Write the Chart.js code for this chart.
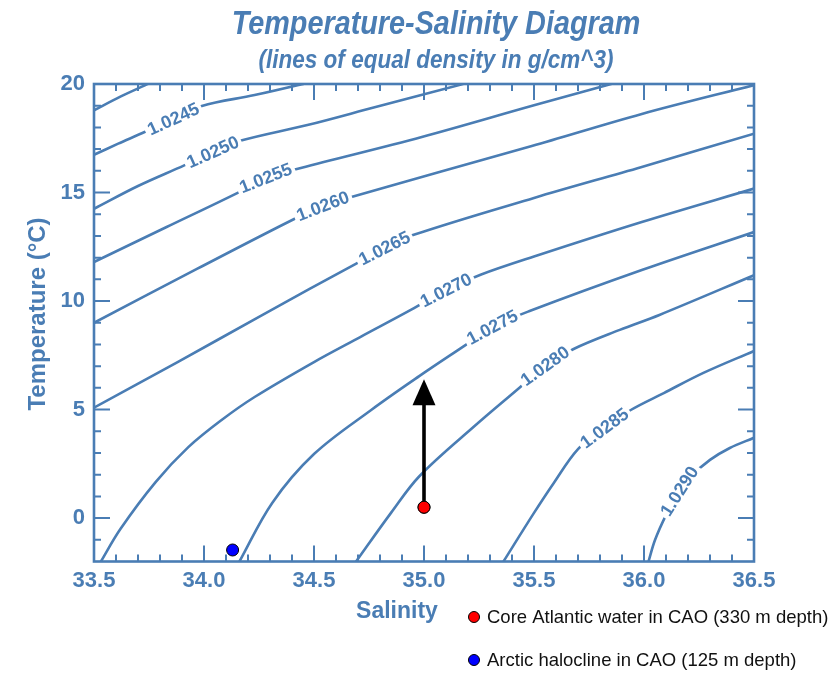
<!DOCTYPE html>
<html><head><meta charset="utf-8">
<script src="https://cdn.jsdelivr.net/npm/chart.js@4"></script>
<style>html,body{margin:0;padding:0;background:#fff;}#wrap{width:836px;height:674px;position:relative;}</style>
</head><body><div id="wrap"><canvas id="c" width="836" height="674"></canvas></div>
<script>
// ---- tick labels ----
const salinityTicks = [33.5, 34.0, 34.5, 35.0, 35.5, 36.0, 36.5];
const temperatureTicks = [0, 5, 10, 15, 20];

// ---- isopycnal lines: [salinity, temperature] ----
const sigma240 = [[33.50,18.79],[33.62,19.42],[33.74,19.98],[33.76,20.08]];
const sigma245 = [[33.50,16.74],[33.61,17.25],[33.72,17.74],[33.86,18.39],[33.99,18.99],[34.23,19.49],[34.44,19.98],[34.48,20.09]];
const sigma250 = [[33.50,14.25],[33.70,15.30],[33.91,16.25],[34.04,16.87],[34.16,17.37],[34.47,18.11],[34.78,18.94],[35.16,19.95],[35.19,20.05]];
const sigma255 = [[33.50,11.80],[33.83,13.41],[34.16,15.02],[34.28,15.67],[34.44,16.13],[34.99,17.56],[35.50,19.02],[35.83,19.94],[35.87,20.05]];
const sigma260 = [[33.50,9.00],[33.97,11.49],[34.41,13.78],[34.54,14.38],[34.67,14.79],[35.07,15.95],[35.49,17.14],[35.99,18.62],[36.50,19.95]];
const sigma265 = [[33.50,5.09],[33.88,7.19],[34.25,9.27],[34.48,10.56],[34.69,11.71],[34.82,12.44],[34.95,13.04],[35.50,14.75],[35.99,16.18],[36.50,17.71]];
const sigma270 = [[33.53,-2.02],[33.62,-0.50],[33.78,1.66],[33.93,3.28],[34.08,4.52],[34.23,5.58],[34.50,7.19],[34.71,8.34],[34.94,9.59],[35.10,10.51],[35.26,11.22],[35.50,12.05],[35.99,13.64],[36.50,15.18]];
const sigma275 = [[34.16,-2.02],[34.31,0.70],[34.50,2.95],[34.76,4.98],[34.98,6.55],[35.19,7.98],[35.31,8.80],[35.48,9.54],[35.99,11.43],[36.50,13.18]];
const sigma280 = [[34.69,-2.02],[34.85,0.24],[34.98,1.94],[35.23,4.24],[35.43,5.97],[35.55,7.01],[35.68,7.79],[35.89,8.67],[36.07,9.36],[36.50,11.19]];
const sigma285 = [[35.36,-2.02],[35.50,0.24],[35.59,1.62],[35.70,3.18],[35.82,4.15],[35.94,4.98],[36.09,5.76],[36.27,6.69],[36.50,7.70]];
const sigma290 = [[36.02,-2.02],[36.05,-1.01],[36.10,0.14],[36.16,1.25],[36.21,1.89],[36.30,2.68],[36.39,3.23],[36.50,3.70]];

const densityLabels = ['', '1.0245', '1.0250', '1.0255', '1.0260', '1.0265', '1.0270', '1.0275', '1.0280', '1.0285', '1.0290'];
const labelPointIndex = [-1, 3, 3, 3, 3, 5, 9, 6, 5, 4, 3];

// ---- observations ----
const coreAtlantic = [35.0, 0.5];
const arcticHalocline = [34.13, -1.47];
const arrowFrom = [35.0, 0.5];
const arrowTo = [35.0, 6.4];
const coreLabel = 'Core Atlantic water in CAO (330 m depth)';
const haloLabel = 'Arctic halocline in CAO (125 m depth)';
const titleText = 'Temperature-Salinity Diagram';
const subtitleText = '(lines of equal density in g/cm^3)';
const xTitle = 'Salinity';
const yTitle = 'Temperature (°C)';

const isopycnals = [sigma240, sigma245, sigma250, sigma255, sigma260, sigma265, sigma270, sigma275, sigma280, sigma285, sigma290];

const BLUE = '#4a7db4';
const FONT = '"Liberation Sans", Arial, Helvetica, sans-serif';

const datasets = isopycnals.map((pts, i) => ({
  label: densityLabels[i] || '1.0240',
  data: pts.map(p => ({x: p[0], y: p[1]})),
  showLine: true,
  borderColor: BLUE,
  borderWidth: 2.6,
  pointRadius: 0,
  pointHoverRadius: 0,
  tension: 0.35,
  fill: false,
  clip: 0
}));
datasets.push({
  label: coreLabel,
  data: [{x: coreAtlantic[0], y: coreAtlantic[1]}],
  showLine: false, pointRadius: 6, pointBackgroundColor: '#ff0000',
  pointBorderColor: '#000', pointBorderWidth: 1, clip: false
});
datasets.push({
  label: haloLabel,
  data: [{x: arcticHalocline[0], y: arcticHalocline[1]}],
  showLine: false, pointRadius: 6, pointBackgroundColor: '#0000ff',
  pointBorderColor: '#000', pointBorderWidth: 1, clip: false
});
const CORE = isopycnals.length, HALO = isopycnals.length + 1;

const tsPlugin = {
  id: 'ts',
  afterDatasetsDraw(chart) {
    const ctx = chart.ctx, area = chart.chartArea;
    const xs = chart.scales.x, ys = chart.scales.y;
    // inline density labels
    ctx.save();
    ctx.beginPath();
    ctx.rect(area.left, area.top, area.right - area.left, area.bottom - area.top);
    ctx.clip();
    isopycnals.forEach((pts, i) => {
      const k = labelPointIndex[i];
      if (k < 0) return;
      const meta = chart.getDatasetMeta(i);
      const p = meta.data[k], a = meta.data[k - 1], b = meta.data[k + 1];
      const ang = Math.atan2(b.y - a.y, b.x - a.x);
      ctx.save();
      ctx.translate(p.x, p.y);
      ctx.rotate(ang);
      ctx.font = 'bold 18px ' + FONT;
      const w = ctx.measureText(densityLabels[i]).width;
      ctx.fillStyle = '#fff';
      ctx.fillRect(-w / 2 - 3, -8, w + 6, 16);
      ctx.fillStyle = BLUE;
      ctx.textAlign = 'center';
      ctx.textBaseline = 'middle';
      ctx.fillText(densityLabels[i], 0, 1);
      ctx.restore();
    });
    ctx.restore();

    // arrow
    const x0 = xs.getPixelForValue(arrowFrom[0]), y0 = ys.getPixelForValue(arrowFrom[1]);
    const x1 = xs.getPixelForValue(arrowTo[0]), y1 = ys.getPixelForValue(arrowTo[1]);
    const headLen = 26, headW = 11.5;
    ctx.save();
    ctx.strokeStyle = '#000';
    ctx.fillStyle = '#000';
    ctx.lineWidth = 3.6;
    ctx.beginPath();
    ctx.moveTo(x0, y0);
    ctx.lineTo(x1, y1 + headLen - 2);
    ctx.stroke();
    ctx.beginPath();
    ctx.moveTo(x1, y1);
    ctx.lineTo(x1 - headW, y1 + headLen);
    ctx.lineTo(x1 + headW, y1 + headLen);
    ctx.closePath();
    ctx.fill();
    ctx.restore();
    // red dot on top of arrow
    chart.getDatasetMeta(CORE).data[0].draw(ctx, area);
  },
  afterDraw(chart) {
    const ctx = chart.ctx, area = chart.chartArea;
    const xs = chart.scales.x, ys = chart.scales.y;
    ctx.save();
    // frame
    ctx.strokeStyle = BLUE;
    ctx.lineWidth = 2.6;
    ctx.strokeRect(area.left, area.top, area.right - area.left, area.bottom - area.top);
    // inward ticks
    ctx.lineWidth = 2;
    ctx.beginPath();
    for (let i = 1; i < 30; i++) {
      const v = 33.5 + i * 0.1;
      const len = (i % 5 === 0) ? 16 : 7;
      const px = xs.getPixelForValue(v);
      ctx.moveTo(px, area.bottom); ctx.lineTo(px, area.bottom - len);
      ctx.moveTo(px, area.top); ctx.lineTo(px, area.top + len);
    }
    for (let t = -1; t < 20; t++) {
      const len = (t % 5 === 0) ? 16 : 7;
      const py = ys.getPixelForValue(t);
      ctx.moveTo(area.left, py); ctx.lineTo(area.left + len, py);
      ctx.moveTo(area.right, py); ctx.lineTo(area.right - len, py);
    }
    ctx.stroke();

    // titles
    ctx.fillStyle = BLUE;
    ctx.textAlign = 'center';
    ctx.textBaseline = 'alphabetic';
    ctx.save();
    ctx.translate(436, 34);
    ctx.scale(0.9, 1.05);
    ctx.font = 'italic bold 32px ' + FONT;
    ctx.fillText(titleText, 0, 0);
    ctx.restore();
    ctx.save();
    ctx.translate(436, 68);
    ctx.scale(0.92, 1.05);
    ctx.font = 'italic bold 24.5px ' + FONT;
    ctx.fillText(subtitleText, 0, 0);
    ctx.restore();

    // axis titles
    ctx.textBaseline = 'middle';
    ctx.font = 'bold 23px ' + FONT;
    ctx.fillText(xTitle, 397, 612);
    ctx.save();
    ctx.translate(38, 314);
    ctx.rotate(-Math.PI / 2);
    ctx.font = 'bold 24px ' + FONT;
    ctx.fillText(yTitle, 0, 0);
    ctx.restore();

    // legend
    const items = [[CORE, 617], [HALO, 660]];
    ctx.textAlign = 'left';
    ctx.font = '18.5px ' + FONT;
    items.forEach(([di, y]) => {
      const ds = chart.data.datasets[di];
      ctx.beginPath();
      ctx.arc(474, y, 5.5, 0, Math.PI * 2);
      ctx.fillStyle = ds.pointBackgroundColor;
      ctx.fill();
      ctx.lineWidth = 1;
      ctx.strokeStyle = '#000';
      ctx.stroke();
      ctx.fillStyle = '#111';
      ctx.fillText(ds.label, 487, y + 1);
    });
    ctx.restore();
  }
};

new Chart(document.getElementById('c'), {
  type: 'scatter',
  data: {datasets},
  options: {
    responsive: false,
    animation: false,
    devicePixelRatio: 1,
    events: [],
    layout: {padding: {top: 84, right: 82, left: 0, bottom: 0}},
    plugins: {legend: {display: false}, tooltip: {enabled: false}, title: {display: false}},
    scales: {
      x: {
        type: 'linear', min: 33.5, max: 36.5,
        afterBuildTicks: s => { s.ticks = salinityTicks.map(v => ({value: v})); },
        afterFit: s => { s.height = 674 - 561.5; },
        grid: {display: false, drawTicks: false},
        border: {display: false},
        ticks: {padding: 6, color: BLUE, autoSkip: false, maxRotation: 0,
          font: {family: FONT, size: 22, weight: 'bold'},
          callback: v => Number(v).toFixed(1)}
      },
      y: {
        type: 'linear', min: -2, max: 20,
        afterBuildTicks: s => { s.ticks = temperatureTicks.map(v => ({value: v})); },
        afterFit: s => { s.width = 94; },
        grid: {display: false, drawTicks: false},
        border: {display: false},
        ticks: {padding: 9, color: BLUE,
          font: {family: FONT, size: 22, weight: 'bold'},
          callback: v => String(v)}
      }
    }
  },
  plugins: [tsPlugin]
});
</script>
</body></html>
